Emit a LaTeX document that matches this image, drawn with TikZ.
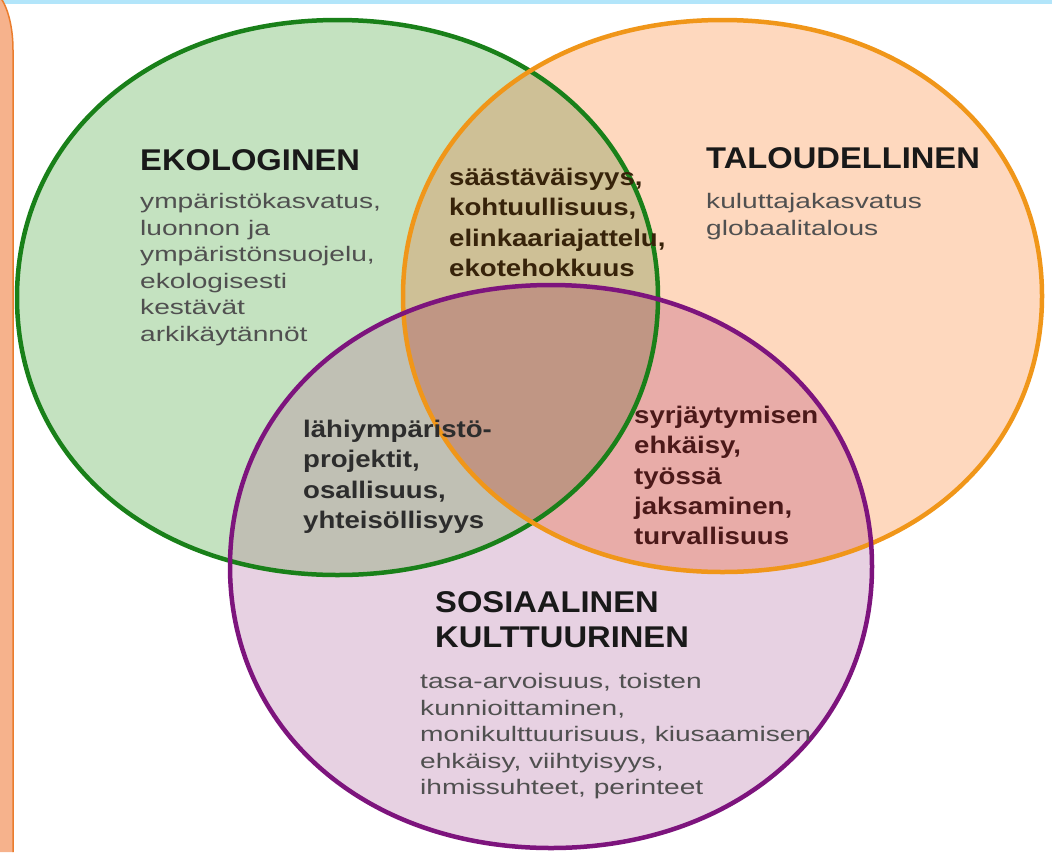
\documentclass[tikz,border=0pt]{standalone}
\usepackage{fontspec}
\setmainfont{Liberation Sans}
\newfontfamily\bodyfont[FakeStretch=1.34]{Liberation Sans}
\newfontfamily\midfont[FakeStretch=1.15]{Liberation Sans}
\newfontfamily\headfont[FakeStretch=1.09]{Liberation Sans}
\definecolor{topblue}{RGB}{178,229,250}
\definecolor{stripfill}{RGB}{246,178,140}
\definecolor{stripline}{RGB}{235,125,45}
\definecolor{gfill}{RGB}{196,226,192}
\definecolor{ofill}{RGB}{254,216,190}
\definecolor{pfill}{RGB}{231,209,226}
\definecolor{gofill}{RGB}{206,192,150}
\definecolor{gpfill}{RGB}{192,192,180}
\definecolor{opfill}{RGB}{232,172,168}
\definecolor{gopfill}{RGB}{192,150,132}
\definecolor{gline}{RGB}{25,128,25}
\definecolor{oline}{RGB}{240,150,25}
\definecolor{pline}{RGB}{125,20,125}
\definecolor{headtext}{RGB}{25,25,25}
\definecolor{bodytext}{RGB}{80,80,80}
\definecolor{gotext}{RGB}{55,35,10}
\definecolor{gptext}{RGB}{45,45,45}
\definecolor{optext}{RGB}{75,25,25}
\def\kk{0.58}
% rounded oval: #1 options, #2 cx, #3 cy, #4 a, #5 b
\newcommand\sellipse[5]{\path[#1]
  ({#2+#4},{#3})
  .. controls ({#2+#4},{#3+\kk*#5}) and ({#2+\kk*#4},{#3+#5}) .. ({#2},{#3+#5})
  .. controls ({#2-\kk*#4},{#3+#5}) and ({#2-#4},{#3+\kk*#5}) .. ({#2-#4},{#3})
  .. controls ({#2-#4},{#3-\kk*#5}) and ({#2-\kk*#4},{#3-#5}) .. ({#2},{#3-#5})
  .. controls ({#2+\kk*#4},{#3-#5}) and ({#2+#4},{#3-\kk*#5}) .. ({#2+#4},{#3}) -- cycle;}
\tikzset{
  heading/.style={anchor=base west,inner sep=0pt,text=headtext,font=\headfont\bfseries\fontsize{30}{35}\selectfont,align=left},
  bodyblock/.style={anchor=north west,inner sep=0pt,text=bodytext,font=\bodyfont\fontsize{21}{26.6}\selectfont,align=left},
  midblock/.style={anchor=north west,inner sep=0pt,font=\midfont\bfseries\fontsize{24}{30.3}\selectfont,align=left},
  outline/.style={line width=4.5pt}
}
\begin{document}
\begin{tikzpicture}[x=1pt,y=-1pt]
\useasboundingbox (0,0) rectangle (1052,852);
\fill[white] (0,0) rectangle (1052,852);
% frame strips
\fill[topblue] (0,0) rectangle (1052,4);
\fill[stripfill] (0,-3) .. controls (7,6) and (13,25) .. (13,50) -- (13,852) -- (0,852) -- cycle;
\draw[stripline,line width=1.5pt] (0,-3) .. controls (7,6) and (13,25) .. (13,50) -- (13,852);
% base fills
\sellipse{fill=gfill}{337.5}{297.5}{320.5}{277.5}
\sellipse{fill=ofill}{722.5}{296}{319.5}{276}
\sellipse{fill=pfill}{551}{566.5}{321}{281.5}
% overlaps
\begin{scope}\sellipse{clip}{337.5}{297.5}{320.5}{277.5}\sellipse{fill=gofill}{722.5}{296}{319.5}{276}\end{scope}
\begin{scope}\sellipse{clip}{337.5}{297.5}{320.5}{277.5}\sellipse{fill=gpfill}{551}{566.5}{321}{281.5}\end{scope}
\begin{scope}\sellipse{clip}{722.5}{296}{319.5}{276}\sellipse{fill=opfill}{551}{566.5}{321}{281.5}\end{scope}
\begin{scope}\sellipse{clip}{337.5}{297.5}{320.5}{277.5}\sellipse{clip}{722.5}{296}{319.5}{276}\sellipse{fill=gopfill}{551}{566.5}{321}{281.5}\end{scope}
% outlines
\sellipse{draw=gline,outline}{337.5}{297.5}{320.5}{277.5}
\sellipse{draw=oline,outline}{722.5}{296}{319.5}{276}
\sellipse{draw=pline,outline}{551}{566.5}{321}{281.5}
% texts
\node[heading] (ekoh) at (140,170) {EKOLOGINEN};
\node[bodyblock] (ekob) at (140,193) {ympäristökasvatus,\\luonnon ja\\ympäristönsuojelu,\\ekologisesti\\kestävät\\arkikäytännöt};
\node[heading] (talh) at (706,168) {TALOUDELLINEN};
\node[bodyblock] (talb) at (706,193) {kuluttajakasvatus\\globaalitalous};
\node[midblock,text=gotext] (go) at (449,168) {säästäväisyys,\\kohtuullisuus,\\elinkaariajattelu,\\ekotehokkuus};
\node[midblock,text=gptext] (gp) at (303,420) {lähiympäristö-\\projektit,\\osallisuus,\\yhteisöllisyys};
\node[midblock,text=optext] (op) at (634,406) {syrjäytymisen\\ehkäisy,\\työssä\\jaksaminen,\\turvallisuus};
\node[heading] (sosh) at (435,647) {SOSIAALINEN\\KULTTUURINEN};
\node[bodyblock] (sosb) at (420,673) {tasa-arvoisuus, toisten\\kunnioittaminen,\\monikulttuurisuus, kiusaamisen\\ehkäisy, viihtyisyys,\\ihmissuhteet, perinteet};
\end{tikzpicture}
\end{document}
